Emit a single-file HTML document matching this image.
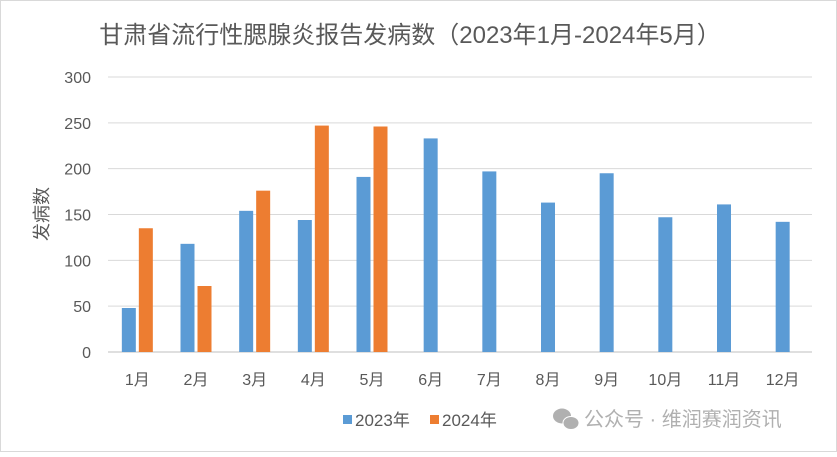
<!DOCTYPE html>
<html><head><meta charset="utf-8"><style>
body{margin:0;background:#fff;}
svg text{font-family:"Liberation Sans","Noto Sans CJK SC",sans-serif;}
</style></head><body>
<svg id="c" width="837" height="452" viewBox="0 0 837 452">
<rect x="0.5" y="0.5" width="836" height="451" fill="#fff" stroke="#d9d9d9"/>
<text x="410" y="43" text-anchor="middle" font-size="24" fill="#595959">甘肃省流行性腮腺炎报告发病数（2023年1月-2024年5月）</text>
<text transform="translate(48,214) rotate(-90)" text-anchor="middle" font-size="18" fill="#595959">发病数</text>
<g id="grid"></g><g id="bars"></g><g id="labels"></g>
<g>
<rect x="343" y="415" width="9" height="9" fill="#5b9bd5"/>
<text x="355" y="426" font-size="17" fill="#595959">2023年</text>
<rect x="430" y="415" width="9" height="9" fill="#ed7d31"/>
<text x="442" y="426" font-size="17" fill="#595959">2024年</text>
</g>
<g>
<ellipse cx="562" cy="416" rx="9" ry="7.5" fill="#b0b0b0"/>
<ellipse cx="571" cy="423" rx="8" ry="6.5" fill="#b0b0b0" stroke="#fff" stroke-width="1"/>
<text x="584" y="426" font-size="20" fill="#b0b0b0">公众号 · 维润赛润资讯</text>
</g>
</svg>
<script>
const categories=["1月","2月","3月","4月","5月","6月","7月","8月","9月","10月","11月","12月"];
const values2023=[48,118,154,144,191,233,197,163,195,147,161,142];
const values2024=[135,72,176,247,246];
const yTicks=[0,50,100,150,200,250,300];
const NS="http://www.w3.org/2000/svg";
const x0=108,x1=812,yBase=352,yTop=77,yMax=300;
const bw=(x1-x0)/categories.length;
function y(v){return yBase-(v/yMax)*(yBase-yTop);}
function xc(i){return x0+bw*(i+0.5);}
function mk(tag,attrs,parent){const e=document.createElementNS(NS,tag);for(const k in attrs)e.setAttribute(k,attrs[k]);document.getElementById(parent).appendChild(e);return e;}
yTicks.forEach(t=>{
 const l=mk('line',{x1:x0,x2:x1,y1:y(t),y2:y(t),stroke:t===0?'#bfbfbf':'#d9d9d9','stroke-width':1},'grid');
 
 
 const tx=mk('text',{x:91,y:y(t)+6,'text-anchor':'end','font-size':16,fill:'#595959'},'labels');
 tx.textContent=t;
 
 
});
const barW=14;
categories.forEach((c,i)=>{
 const has24=i<values2024.length;
 const cx=xc(i);
 const bx=has24?cx-barW-1.5:cx-barW/2;
 const b=mk('rect',{x:bx,y:y(values2023[i]),width:barW,height:yBase-y(values2023[i]),fill:'#5b9bd5'},'bars');
 
 
 if(has24){
  const b2=mk('rect',{x:cx+1.5,y:y(values2024[i]),width:barW,height:yBase-y(values2024[i]),fill:'#ed7d31'},'bars');
  
  
 }
 const t=mk('text',{x:cx,y:385,'text-anchor':'middle','font-size':16,fill:'#595959'},'labels');
 t.textContent=c;
 
 
});
</script>
</body></html>
